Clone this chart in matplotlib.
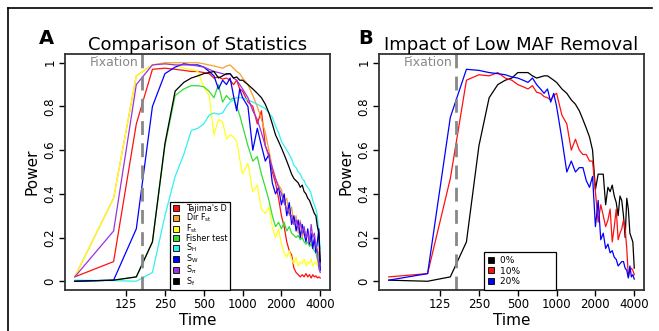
import matplotlib
matplotlib.use("Agg")
import matplotlib.pyplot as plt
from matplotlib.lines import Line2D

# ---------------- data ----------------
times = [50, 100, 150, 200, 250, 300, 350, 400, 450, 500, 550, 600, 650, 700, 750,
         800, 850, 900, 950, 1000, 1100, 1200, 1300, 1400, 1500, 1600, 1700, 1800,
         1900, 2000, 2100, 2200, 2300, 2400, 2500, 2600, 2700, 2800, 2900, 3000,
         3100, 3200, 3300, 3400, 3500, 3600, 3700, 3800, 3900, 4000]

tajima_d = [0.02, 0.09, 0.72, 0.97, 0.975, 0.97, 0.965, 0.96, 0.96, 0.955, 0.95, 0.93, 0.935, 0.925, 0.93,
            0.92, 0.9, 0.92, 0.88, 0.87, 0.82, 0.8, 0.72, 0.78, 0.62, 0.58, 0.5, 0.45,
            0.38, 0.3, 0.25, 0.18, 0.14, 0.12, 0.06, 0.04, 0.03, 0.02, 0.03, 0.02,
            0.035, 0.02, 0.03, 0.015, 0.03, 0.02, 0.025, 0.015, 0.02, 0.015]
dir_fst = [0.02, 0.38, 0.94, 0.99, 1.0, 1.0, 1.0, 1.0, 1.0, 0.995, 0.99, 0.985, 0.98, 0.975, 0.985,
           0.99, 0.975, 0.96, 0.95, 0.93, 0.9, 0.85, 0.8, 0.74, 0.68, 0.6, 0.52, 0.47,
           0.44, 0.42, 0.36, 0.38, 0.3, 0.34, 0.26, 0.3, 0.22, 0.28, 0.2, 0.24,
           0.19, 0.22, 0.17, 0.2, 0.16, 0.18, 0.14, 0.15, 0.12, 0.08]
fst = [0.02, 0.38, 0.94, 0.99, 0.995, 0.99, 0.975, 0.97, 0.96, 0.89, 0.85, 0.67, 0.74, 0.73, 0.65,
       0.67, 0.66, 0.64, 0.56, 0.49, 0.54, 0.41, 0.44, 0.33, 0.31, 0.34, 0.25, 0.2,
       0.24, 0.17, 0.13, 0.11, 0.14, 0.1, 0.08, 0.11, 0.07, 0.09, 0.08, 0.1,
       0.07, 0.09, 0.08, 0.1, 0.07, 0.08, 0.09, 0.07, 0.08, 0.06]
fisher = [0.0, 0.005, 0.02, 0.18, 0.62, 0.85, 0.88, 0.895, 0.895, 0.89, 0.87, 0.84, 0.9, 0.82, 0.85,
          0.83, 0.84, 0.8, 0.76, 0.71, 0.62, 0.55, 0.57, 0.49, 0.43, 0.37, 0.3, 0.25,
          0.27, 0.24, 0.27, 0.23, 0.25, 0.22, 0.21, 0.2, 0.21, 0.19, 0.2, 0.18,
          0.17, 0.18, 0.16, 0.17, 0.15, 0.14, 0.13, 0.1, 0.08, 0.06]
s_h = [0.005, 0.003, 0.0, 0.04, 0.3, 0.48, 0.58, 0.69, 0.7, 0.72, 0.76, 0.77, 0.765, 0.77, 0.8,
       0.82, 0.83, 0.84, 0.84, 0.84, 0.83, 0.82, 0.81, 0.8, 0.79, 0.77, 0.75, 0.71,
       0.68, 0.64, 0.62, 0.6, 0.58, 0.56, 0.53, 0.52, 0.5, 0.49, 0.47, 0.46,
       0.44, 0.43, 0.42, 0.4, 0.37, 0.35, 0.33, 0.3, 0.22, 0.15]
s_w = [0.0, 0.005, 0.24, 0.8, 0.95, 0.98, 0.995, 0.99, 0.99, 0.98, 0.96, 0.94, 0.88, 0.92, 0.9,
       0.93, 0.85, 0.78, 0.88, 0.84, 0.8, 0.6, 0.7, 0.62, 0.55, 0.58, 0.45, 0.4,
       0.43, 0.35, 0.4, 0.3, 0.36, 0.26, 0.3, 0.23, 0.28, 0.2, 0.26, 0.22,
       0.18, 0.24, 0.17, 0.22, 0.15, 0.2, 0.13, 0.18, 0.24, 0.05]
s_pi = [0.02, 0.23, 0.9, 0.99, 0.995, 0.99, 0.99, 0.99, 0.985, 0.98, 0.97, 0.96, 0.955, 0.95, 0.945,
        0.95, 0.93, 0.92, 0.9, 0.88, 0.84, 0.78, 0.74, 0.68, 0.62, 0.57, 0.52, 0.47,
        0.43, 0.4, 0.36, 0.33, 0.31, 0.3, 0.26, 0.28, 0.24, 0.27, 0.22, 0.25,
        0.2, 0.22, 0.18, 0.26, 0.2, 0.22, 0.16, 0.14, 0.06, 0.04]
s_f = [0.0, 0.005, 0.02, 0.18, 0.63, 0.87, 0.91, 0.93, 0.94, 0.95, 0.955, 0.96, 0.93, 0.94, 0.95,
       0.95, 0.93, 0.935, 0.92, 0.92, 0.9, 0.88, 0.86, 0.84, 0.81, 0.77, 0.72, 0.67,
       0.64, 0.61, 0.58, 0.55, 0.52, 0.49, 0.47, 0.46, 0.45, 0.43, 0.44, 0.41,
       0.4, 0.38, 0.37, 0.35, 0.33, 0.31, 0.3, 0.25, 0.22, 0.09]

maf_0 = [0.005, 0.0, 0.02, 0.18, 0.62, 0.84, 0.9, 0.92, 0.93, 0.955, 0.955, 0.955, 0.94, 0.93, 0.935,
         0.94, 0.94, 0.93, 0.92, 0.91, 0.88, 0.86, 0.83, 0.81, 0.78, 0.74, 0.7, 0.66,
         0.6, 0.42, 0.49, 0.49, 0.49, 0.35, 0.43, 0.41, 0.44, 0.39, 0.36, 0.3,
         0.39, 0.37, 0.3, 0.2, 0.38, 0.33, 0.22, 0.2, 0.18, 0.06]
maf_10 = [0.02, 0.035, 0.47, 0.92, 0.945, 0.94, 0.955, 0.93, 0.92, 0.9, 0.89, 0.88, 0.895, 0.865, 0.86,
          0.845, 0.84, 0.83, 0.85, 0.86, 0.76, 0.72, 0.6, 0.65, 0.6, 0.58, 0.58, 0.55,
          0.55, 0.41, 0.27, 0.35, 0.3, 0.25, 0.28, 0.33, 0.18, 0.25, 0.33, 0.19,
          0.22, 0.24, 0.28, 0.24, 0.15, 0.02, 0.05, 0.06, 0.05, 0.03]
maf_20 = [0.005, 0.035, 0.75, 0.97, 0.965, 0.955, 0.95, 0.945, 0.935, 0.93, 0.92, 0.91, 0.93, 0.9, 0.88,
          0.86, 0.88, 0.82, 0.86, 0.8, 0.65, 0.5, 0.55, 0.5, 0.52, 0.52, 0.46, 0.43,
          0.48, 0.25, 0.37, 0.19, 0.22, 0.15, 0.17, 0.13, 0.14, 0.11, 0.1, 0.07,
          0.08, 0.09, 0.09, 0.06, 0.05, 0.015, 0.07, 0.02, 0.03, 0.01]

labels_a = ["Tajima's D", r"Dir F$_{\mathrm{st}}$", r"F$_{\mathrm{st}}$", "Fisher test",
            r"S$_{\mathrm{H}}$", r"S$_{\mathrm{W}}$", r"S$_{\pi}$", r"S$_{\mathrm{f}}$"]
labels_b = ["0%", "10%", "20%"]
xticks = [125, 250, 500, 1000, 2000, 4000]
yticks = [0, 0.2, 0.4, 0.6, 0.8, 1]
ytick_labels = ["0", "0.2", "0.4", "0.6", "0.8", "1"]
fixation_time = 165

colors_a = ["#FF1010", "#F5A030", "#FFFF20", "#33DD33", "#33F0F0", "#0000FF", "#9933DD", "#000000"]
colors_b = ["#000000", "#FF1010", "#0000FF"]

# ---------------- figure ----------------
W, H = 659, 331
plt.rcParams['font.family'] = ['DejaVu Sans']
fig = plt.figure(figsize=(W / 100, H / 100), dpi=100)

# outer frame (left and top edges visible)
fig.add_artist(Line2D([7.5 / W, 7.5 / W], [0, 1 - 8 / H], transform=fig.transFigure,
                      color="black", lw=1.2))
fig.add_artist(Line2D([7.5 / W, 652 / W], [1 - 8 / H, 1 - 8 / H], transform=fig.transFigure,
                      color="black", lw=1.2))


def make_axes(left_px, series, colors, labels, title, letter, letter_x, leg_kw):
    ax = fig.add_axes([left_px / W, 1 - 290 / H, 265 / W, 236 / H])
    for ys, c in zip(series, colors):
        ax.plot(times, ys, color=c, lw=0.9)
    ax.set_xscale("log", base=2)
    ax.set_xlim(42, 4760)
    ax.set_ylim(-0.04, 1.04)
    ax.set_xticks(xticks)
    ax.set_xticklabels([str(t) for t in xticks], fontsize=8.5)
    ax.minorticks_off()
    ax.set_yticks(yticks)
    ax.set_yticklabels(ytick_labels, fontsize=8.5, rotation=90, va="center")
    ax.tick_params(direction="out", length=4, width=1, pad=2)
    for s in ax.spines.values():
        s.set_linewidth(1.3)
        s.set_color("#333333")
    ax.axvline(fixation_time, color="#888888", lw=2, dashes=(5, 3))
    ax.text(fixation_time * 0.95, 1.0, "Fixation", color="#888888", fontsize=9,
            ha="right", va="center")
    ax.set_xlabel("Time", fontsize=11, labelpad=1)
    ax.set_ylabel("Power", fontsize=11, labelpad=3)
    ax.set_title(title, fontsize=13, pad=3)
    fig.text(letter_x / W, 1 - 38 / H, letter, fontsize=14, fontweight="bold",
             ha="center", va="center")
    handles = [Line2D([], [], marker="s", linestyle="none", markersize=4.5,
                      markerfacecolor=c, markeredgecolor="black", markeredgewidth=0.6)
               for c in colors]
    leg = ax.legend(handles, labels, loc="lower left", bbox_to_anchor=(0.396, 0.0),
                    borderaxespad=0, frameon=True, fancybox=False,
                    edgecolor="black", framealpha=1, handlelength=0.8,
                    **leg_kw)
    leg.get_frame().set_linewidth(0.9)
    return ax


make_axes(65, [tajima_d, dir_fst, fst, fisher, s_h, s_w, s_pi, s_f], colors_a, labels_a,
          "Comparison of Statistics", "A", 46,
          dict(fontsize=5.8, labelspacing=-0.17, borderpad=0.3, handletextpad=0.9))
make_axes(379, [maf_0, maf_10, maf_20], colors_b, [l.ljust(14) for l in labels_b],
          "Impact of Low MAF Removal", "B", 366,
          dict(fontsize=6.5, labelspacing=0.2, borderpad=0.4, handletextpad=0.6))

fig.savefig("out.png", dpi=100)
